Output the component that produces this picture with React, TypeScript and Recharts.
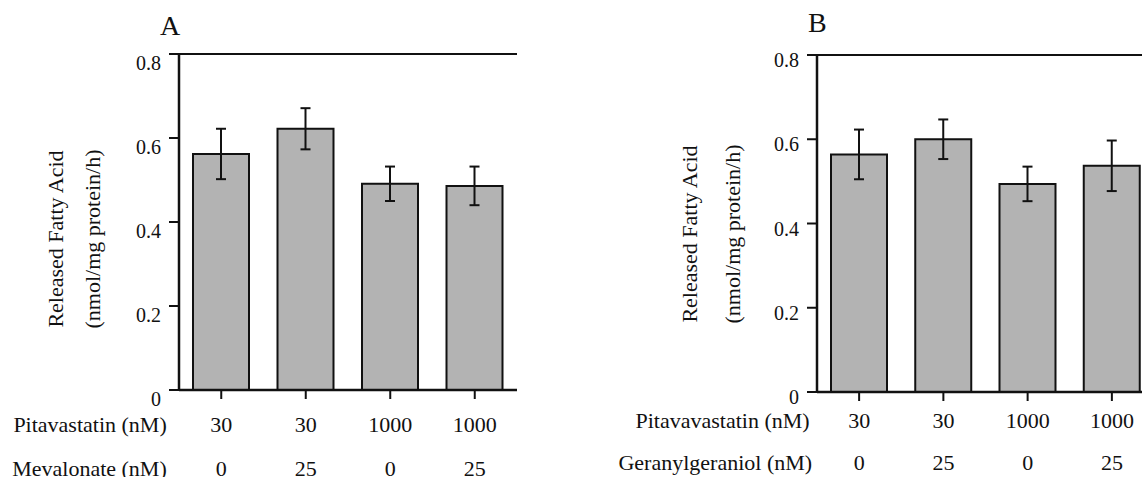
import React from "react";
import { BarChart, Bar, XAxis, YAxis, ErrorBar, ReferenceLine, Label } from "recharts";

// ── Data ──────────────────────────────────────────────────────────────────────

const statinA = ["30", "30", "1000", "1000"];
const mevalonate = ["0", "25", "0", "25"];
const releasedA = [0.562, 0.622, 0.491, 0.486];
const errA = [0.06, 0.049, 0.041, 0.046];

const statinB = ["30", "30", "1000", "1000"];
const geranylgeraniol = ["0", "25", "0", "25"];
const releasedB = [0.564, 0.6, 0.494, 0.537];
const errB = [0.059, 0.047, 0.041, 0.06];

const yTicks = [0, 0.2, 0.4, 0.6, 0.8];

// ── Style ─────────────────────────────────────────────────────────────────────

const FONT = '"Liberation Serif", "Times New Roman", serif';
const INK = "#111";
const BAR_FILL = "#b3b3b3";

const textStyle = (size: number): React.CSSProperties => ({ fontFamily: FONT, fontSize: size, fill: INK });

type Row = { key: string; top: string; bottom: string; value: number; err: number };

const buildRows = (top: string[], bottom: string[], values: number[], errs: number[]): Row[] =>
  top.map((t, i) => ({ key: `${t}|${bottom[i]}`, top: t, bottom: bottom[i], value: values[i], err: errs[i] }));

const rowsA = buildRows(statinA, mevalonate, releasedA, errA);
const rowsB = buildRows(statinB, geranylgeraniol, releasedB, errB);

type PanelProps = {
  letter: string;
  left: number;
  width: number;
  letterX: number;
  letterTop: number;
  rows: Row[];
  headers: [string, string];
  margin: { top: number; right: number; bottom: number; left: number };
  xAxisHeight: number;
  row1: number;
  row2: number;
  headerDx: [number, number];
  labelDx: [number, number];
  labelDy: number;
  yTickDy: number;
};

function Panel(p: PanelProps) {
  const height = 477;

  // two rows of condition values under each bar, row headers left of the first one
  const XTick = (props: any) => {
    const { x, y, payload, index } = props;
    const r = p.rows.find((d) => d.key === payload.value) ?? p.rows[index];
    const st = textStyle(22);
    return (
      <g>
        <text x={x} y={y + p.row1} textAnchor="middle" dominantBaseline="central" style={st}>{r.top}</text>
        <text x={x} y={y + p.row2} textAnchor="middle" dominantBaseline="central" style={st}>{r.bottom}</text>
        {index === 0 && (
          <>
            <text x={x + p.headerDx[0]} y={y + p.row1} textAnchor="end" dominantBaseline="central" style={st}>
              {p.headers[0]}
            </text>
            <text x={x + p.headerDx[1]} y={y + p.row2} textAnchor="end" dominantBaseline="central" style={st}>
              {p.headers[1]}
            </text>
          </>
        )}
      </g>
    );
  };

  const YTick = (props: any) => {
    const { x, y, payload } = props;
    return (
      <text x={x} y={y + p.yTickDy} textAnchor="end" dominantBaseline="central" style={textStyle(20)}>
        {payload.value === 0 ? "0" : String(payload.value)}
      </text>
    );
  };

  const YLabel = (props: any) => {
    const vb = props.viewBox;
    const axisX = vb.x + vb.width;
    const cy = vb.y + vb.height / 2 + p.labelDy;
    const lines = ["Released Fatty Acid", "(nmol/mg protein/h)"];
    return (
      <g>
        {lines.map((t, i) => {
          const cx = axisX + p.labelDx[i];
          return (
            <text
              key={t}
              x={cx}
              y={cy}
              transform={`rotate(-90 ${cx} ${cy})`}
              textAnchor="middle"
              dominantBaseline="central"
              style={textStyle(22)}
            >
              {t}
            </text>
          );
        })}
      </g>
    );
  };

  return (
    <div style={{ position: "absolute", left: p.left, top: 0, width: p.width, height }}>
      <div
        style={{
          position: "absolute",
          left: p.letterX - p.left,
          top: p.letterTop,
          fontFamily: FONT,
          fontSize: 28,
          lineHeight: "28px",
          color: INK,
        }}
      >
        {p.letter}
      </div>
      <BarChart width={p.width} height={height} data={p.rows} margin={p.margin}>
        <XAxis
          dataKey="key"
          height={p.xAxisHeight}
          tickSize={9}
          tickMargin={0}
          interval={0}
          axisLine={{ stroke: INK, strokeWidth: 2.5 }}
          tickLine={{ stroke: INK, strokeWidth: 2 }}
          tick={<XTick />}
        />
        <YAxis
          domain={[0, 0.8]}
          ticks={yTicks}
          width={80}
          tickSize={10}
          tickMargin={8}
          axisLine={{ stroke: INK, strokeWidth: 2.5 }}
          tickLine={{ stroke: INK, strokeWidth: 2 }}
          tick={<YTick />}
        >
          <Label content={<YLabel />} />
        </YAxis>
        {/* thin frame: right edge + top edge */}
        <YAxis
          yAxisId="frame"
          orientation="right"
          domain={[0, 0.8]}
          width={0}
          tick={false}
          tickLine={false}
          axisLine={{ stroke: INK, strokeWidth: 2 }}
        />
        <ReferenceLine y={0.8} stroke={INK} strokeWidth={2} />
        <Bar dataKey="value" fill={BAR_FILL} stroke={INK} strokeWidth={2} barSize={56} isAnimationActive={false}>
          <ErrorBar dataKey="err" direction="y" width={5} stroke={INK} strokeWidth={2} />
        </Bar>
      </BarChart>
    </div>
  );
}

export default function App() {
  return (
    <div
      style={{
        position: "absolute",
        left: 0,
        top: 0,
        width: 1142,
        height: 477,
        overflow: "hidden",
        background: "#fff",
      }}
    >
      <Panel
        letter="A"
        left={0}
        width={560}
        letterX={160}
        letterTop={12}
        rows={rowsA}
        headers={["Pitavastatin (nM)", "Mevalonate (nM)"]}
        margin={{ top: 54, right: 43, bottom: 0, left: 99 }}
        xAxisHeight={87}
        row1={25}
        row2={69.5}
        headerDx={[-54.5, -54.5]}
        labelDx={[-123.7, -86.3]}
        labelDy={17}
        yTickDy={8.5}
      />
      <Panel
        letter="B"
        left={580}
        width={600}
        letterX={808}
        letterTop={9}
        rows={rowsB}
        headers={["Pitavavastatin (nM)", "Geranylgeraniol (nM)"]}
        margin={{ top: 55, right: 26, bottom: 0, left: 157 }}
        xAxisHeight={85}
        row1={19}
        row2={61}
        headerDx={[-49.5, -47]}
        labelDx={[-127.7, -84.7]}
        labelDy={10.5}
        yTickDy={5}
      />
    </div>
  );
}
